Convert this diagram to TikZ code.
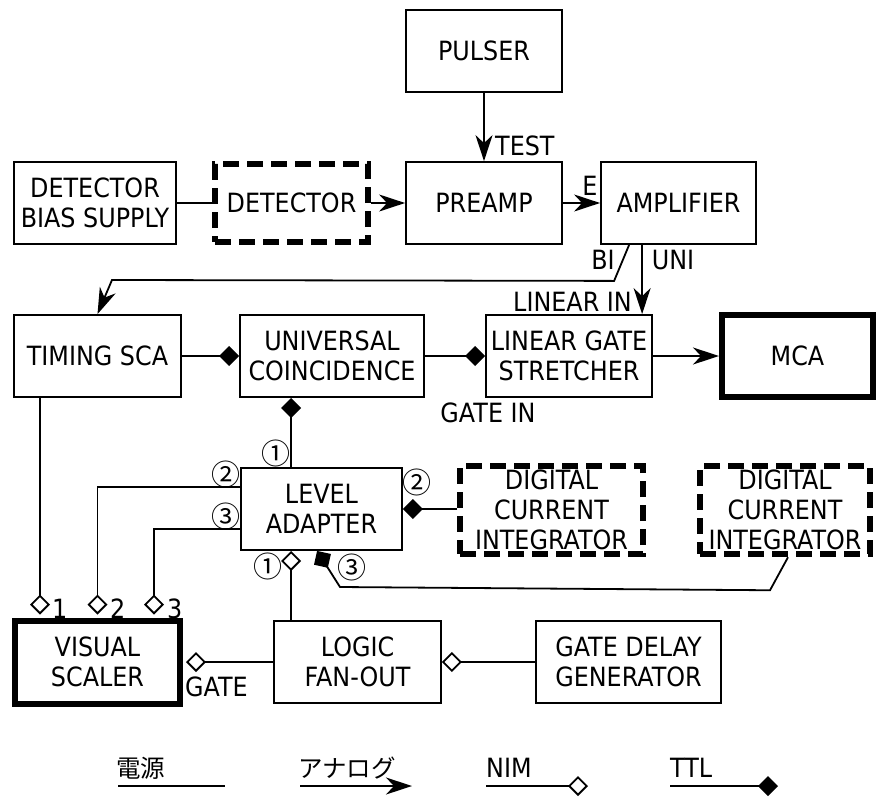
\documentclass[tikz,border=0pt]{standalone}
\usepackage{fontspec}
\setmainfont{DejaVu Sans}[FakeStretch=0.9]
\newfontfamily\jpfont{Noto Sans CJK JP}
\usetikzlibrary{arrows.meta}
\begin{document}
\begin{tikzpicture}[x=1pt,y=-1pt,
  every node/.style={font=\fontsize{26.5}{30}\selectfont},
  box/.style={draw, line width=1.8pt, align=center, inner sep=0pt},
  thickbox/.style={box, line width=6pt},
  dbox/.style={box, line width=6.5pt, dash pattern=on 16pt off 8pt},
  wire/.style={line width=1.8pt},
  ana/.style={wire, -{Stealth[length=26pt,width=17pt,inset=8pt]}},
  nim/.style={wire, -{Diamond[length=20pt,width=20pt,fill=white]}},
  ttl/.style={wire, -{Diamond[length=20pt,width=20pt,fill=black]}},
  lbl/.style={inner sep=0pt},
  cnum/.style={inner sep=0pt, font=\jpfont\fontsize{29}{30}\selectfont},
  jp/.style={inner sep=0pt, font=\jpfont\fontsize{24.5}{26}\selectfont},
]
\useasboundingbox (0,0) rectangle (880,803);

% boxes
\node[box, minimum width=156pt, minimum height=82pt] (pulser) at (484,51) {PULSER};
\node[box, minimum width=162pt, minimum height=82pt] (bias) at (95,203) {DETECTOR\\BIAS SUPPLY};
\node[dbox, minimum width=153pt, minimum height=78pt] (det) at (291.5,203) {DETECTOR};
\node[box, minimum width=156pt, minimum height=82pt] (preamp) at (484,203) {PREAMP};
\node[box, minimum width=155pt, minimum height=82pt] (amp) at (678.5,203) {AMPLIFIER};
\node[box, minimum width=167pt, minimum height=82pt] (tsca) at (97.5,356) {TIMING SCA};
\node[box, minimum width=184pt, minimum height=82pt] (coinc) at (332,356) {UNIVERSAL\\COINCIDENCE};
\node[box, minimum width=166pt, minimum height=82pt] (lgs) at (569,356) {LINEAR GATE\\STRETCHER};
\node[thickbox, minimum width=151pt, minimum height=82pt] (mca) at (797.5,356) {MCA};
\node[box, minimum width=161pt, minimum height=82pt] (la) at (321.5,509) {LEVEL\\ADAPTER};
\node[dbox, minimum width=183pt, minimum height=88pt] (dci1) at (551.5,510) {DIGITAL\\CURRENT\\INTEGRATOR};
\node[dbox, minimum width=170pt, minimum height=88pt] (dci2) at (785,510) {DIGITAL\\CURRENT\\INTEGRATOR};
\node[thickbox, minimum width=165pt, minimum height=83pt] (vs) at (97.5,662) {VISUAL\\SCALER};
\node[box, minimum width=167pt, minimum height=82pt] (fan) at (357.5,662) {LOGIC\\FAN-OUT};
\node[box, minimum width=185pt, minimum height=82pt] (gdg) at (628.5,662) {GATE DELAY\\GENERATOR};

% top chain
\draw[ana] (pulser) -- (preamp);
\draw[wire] (bias) -- (det);
\draw[ana] (det) -- (preamp);
\draw[ana] (preamp) -- (amp);

% amplifier outputs
\coordinate (bi) at ([xshift=29pt]amp.south west);
\coordinate (uni) at ([xshift=42pt]amp.south west);
\draw[ana] (bi) -- ++(-15,36) -- (112,280) -- (tsca.north);
\draw[ana] (uni) -- (uni |- lgs.north);

% second row
\draw[ttl] (tsca) -- (coinc);
\draw[ttl] (coinc) -- (lgs);
\draw[ana] (lgs) -- (mca);

% level adapter
\coordinate (la1) at ([xshift=51pt]la.north west);
\coordinate (la1b) at ([xshift=51pt]la.south west);
\draw[ttl] (la1) -- (la1 |- coinc.south);
\draw[nim] (la1b |- fan.north) -- (la1b);
\draw[ttl] (dci1.west |- la.east) -- (la.east);
\coordinate (d2) at ([xshift=3pt]dci2.south);
\coordinate (la3) at ([xshift=77pt]la.south west);
\draw[ttl] (d2) -- ++(-18,33) -- (340,587) -- (la3);

% to visual scaler
\coordinate (l2) at ([yshift=-20pt]la.north west);
\coordinate (l3) at ([yshift=-62pt]la.north west);
\coordinate (vs1) at ([xshift=-57.5pt,yshift=3pt]vs.north);
\coordinate (vs2) at ([yshift=3pt]vs.north);
\coordinate (vs3) at ([xshift=56.5pt,yshift=3pt]vs.north);
\draw[nim] (vs1 |- tsca.south) -- (vs1);
\draw[nim] (l2) -| (vs2);
\draw[nim] (l3) -| (vs3);
\draw[nim] (fan.west) -- ([xshift=3pt]vs.east);
\draw[nim] (gdg) -- (fan);

% labels
\node[lbl, anchor=west] (ltest) at (495,146) {TEST};
\node[lbl] (le) at (590,186) {E};
\node[lbl] (lbi) at (603,260) {BI};
\node[lbl] (luni) at (673,260) {UNI};
\node[lbl, anchor=east] (llin) at (632,302) {LINEAR IN};
\node[lbl] (lgi) at (488,413) {GATE IN};
\node[lbl, anchor=west] (lgate) at (185,687) {GATE};
\node[cnum] (c1a) at (276,453) {①};
\node[cnum] (c2a) at (226,474) {②};
\node[cnum] (c3a) at (226,516) {③};
\node[cnum] (c2b) at (417,482) {②};
\node[cnum] (c1b) at (268,566) {①};
\node[cnum] (c3b) at (352,567) {③};
\node[lbl, anchor=west] (n1) at (52,609) {1};
\node[lbl, anchor=west] (n2) at (110,609) {2};
\node[lbl, anchor=west] (n3) at (167,609) {3};

% legend
\node[jp, anchor=west] (k1) at (116,768) {電源};
\node[jp, anchor=west] (k2) at (298,768) {アナログ};
\node[lbl, anchor=west] (k3) at (486,768) {NIM};
\node[lbl, anchor=west] (k4) at (670,768) {TTL};
\coordinate (a1) at (118,786); \coordinate (b1) at (225,786);
\coordinate (a2) at (300,786); \coordinate (b2) at (412,786);
\coordinate (a3) at (486,786); \coordinate (b3) at (588,786);
\coordinate (a4) at (670,786); \coordinate (b4) at (778,786);
\draw[wire] (a1) -- (b1);
\draw[ana] (a2) -- (b2);
\draw[nim] (a3) -- (b3);
\draw[ttl] (a4) -- (b4);
\end{tikzpicture}
\end{document}
